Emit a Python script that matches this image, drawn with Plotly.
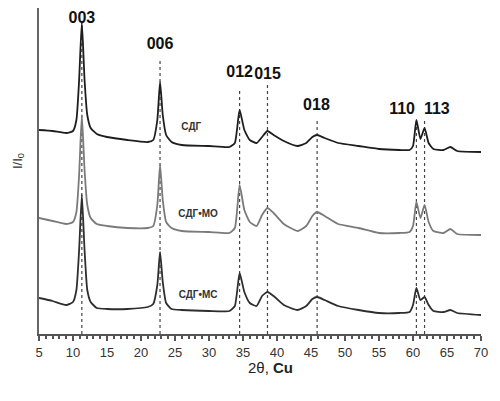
import plotly.graph_objects as go

# 2theta sample points
two_theta = [5, 7, 9, 10, 10.5, 10.9, 11.3, 11.7, 12.1, 12.6, 13.5, 15, 18, 21, 21.8,
             22.4, 22.8, 23.2, 23.7, 24.5, 26, 30, 33, 33.8, 34.5, 35.2, 36, 37, 37.8,
             38.6, 39.5, 41, 43, 44.3, 45.2, 45.9, 47, 49, 52, 55, 58, 59.5, 60, 60.5,
             61.1, 61.7, 62.3, 63, 64.5, 65.5, 66.5, 70]

sdg = [204, 203, 201, 203, 214, 254, 312, 254, 219, 206, 200, 197, 194, 192, 194,
       214, 252, 219, 199, 192, 189, 188, 187, 191, 224, 204, 194, 191, 197,
       203, 199, 193, 188, 191, 197, 199, 196, 191, 188, 185, 184, 184, 188, 214,
       195, 206, 191, 185, 184, 187, 183, 182]

sdg_mo = [116, 113, 110, 112, 122, 159, 219, 164, 129, 116, 110, 108, 106, 106, 108,
          129, 169, 134, 112, 106, 103, 102, 101, 106, 149, 124, 112, 108, 119,
          126, 121, 110, 103, 108, 118, 122, 118, 110, 106, 101, 101, 102, 108, 132,
          116, 129, 112, 103, 101, 105, 100, 99]

sdg_ms = [36, 33, 29, 32, 44, 84, 139, 84, 44, 32, 26, 25, 25, 27, 30,
          49, 82, 52, 31, 25, 24, 23, 23, 28, 61, 42, 31, 28, 38,
          42, 38, 29, 24, 28, 35, 37, 34, 28, 24, 21, 21, 22, 29, 46,
          34, 37, 29, 23, 22, 24, 21, 19]

# reflections
hkl = ['003', '006', '012', '015', '018', '110', '113']
peak_pos = [11.3, 22.8, 34.5, 38.6, 45.9, 60.5, 61.7]
line_top = [312, 274, 246, 249, 214, 214, 214]
label_x = [11.3, 22.8, 34.5, 38.6, 45.8, 58.4, 63.5]
label_y = [315, 289, 261, 259, 228, 224, 224]

series_names = ['СДГ', 'СДГ•МО', 'СДГ•МС']
series_label_x = [27.4, 28.4, 28.4]
series_label_y = [207, 120, 39]

fig = go.Figure()

# dotted guide lines
gx, gy = [], []
for p, t in zip(peak_pos, line_top):
    gx += [p, p, None]
    gy += [0, t, None]
fig.add_trace(go.Scatter(x=gx, y=gy, mode='lines',
                         line=dict(color='#444', width=1.2, dash='dot'),
                         hoverinfo='skip'))

fig.add_trace(go.Scatter(x=two_theta, y=sdg, mode='lines',
                         line=dict(color='#1e1e1e', width=1.8, shape='spline', smoothing=0.5)))
fig.add_trace(go.Scatter(x=two_theta, y=sdg_mo, mode='lines',
                         line=dict(color='#7a7a7a', width=1.8, shape='spline', smoothing=0.5)))
fig.add_trace(go.Scatter(x=two_theta, y=sdg_ms, mode='lines',
                         line=dict(color='#2e2e2e', width=1.8, shape='spline', smoothing=0.5)))

fig.add_trace(go.Scatter(x=label_x, y=label_y, mode='text', text=hkl, cliponaxis=False,
                         textfont=dict(family='Liberation Sans', size=16, color='#111'),
                         texttemplate='<b>%{text}</b>', hoverinfo='skip'))

fig.add_trace(go.Scatter(x=series_label_x, y=series_label_y, mode='text', text=series_names,
                         cliponaxis=False,
                         textfont=dict(family='Liberation Sans', size=10, color='#333'),
                         texttemplate='<b>%{text}</b>', hoverinfo='skip'))

# page body adds an 8px margin, so the figure is 8px smaller than the window
fig.update_layout(
    width=492, height=393,
    margin=dict(l=31, r=19, t=0, b=67, autoexpand=False),
    plot_bgcolor='white', paper_bgcolor='white',
    showlegend=False,
    xaxis=dict(range=[5, 70], dtick=5, showgrid=False, zeroline=False,
               showline=True, linecolor='#555', linewidth=2,
               ticks='outside', ticklen=5, tickwidth=1.5, tickcolor='#555',
               minor=dict(dtick=1, ticks='outside', ticklen=3, tickcolor='#555'),
               tickfont=dict(family='Liberation Sans', size=13, color='#333')),
    yaxis=dict(range=[0, 326], showgrid=False, zeroline=False,
               showline=True, linecolor='#666', linewidth=2,
               showticklabels=False, ticks=''),
    annotations=[
        dict(text='2θ, <b>Cu</b>', xref='paper', yref='paper', x=0.523, y=-0.104,
             xanchor='center', yanchor='middle',
             showarrow=False, font=dict(family='Liberation Sans', size=15, color='#222')),
        dict(text='I/I<sub>0</sub>', xref='paper', yref='paper', x=-0.048, y=0.53,
             xanchor='center', yanchor='middle',
             textangle=-90, showarrow=False,
             font=dict(family='Liberation Sans', size=13, color='#333')),
    ],
)

fig.write_html("out.html")
